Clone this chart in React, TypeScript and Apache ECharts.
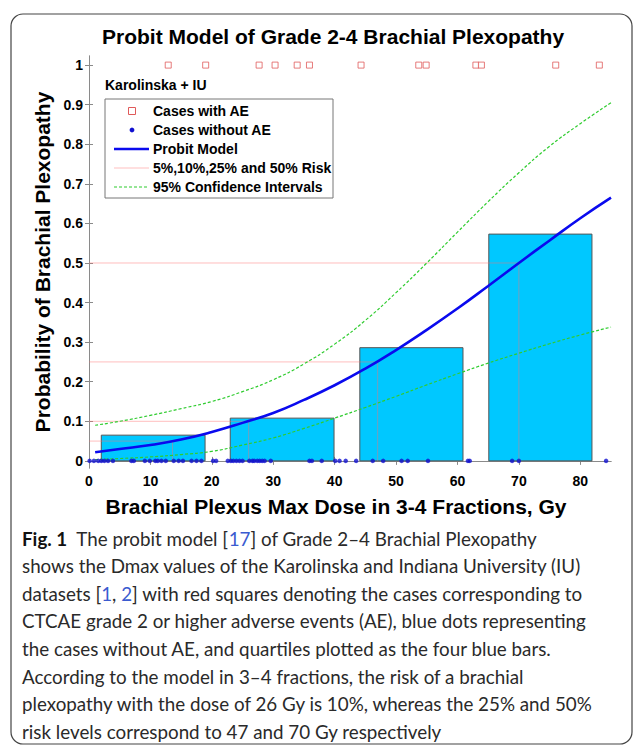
import React, { useEffect, useRef } from 'react';
import * as echarts from 'echarts';

// ---------- data ----------
const xTickValues = [0, 10, 20, 30, 40, 50, 60, 70, 80];
const yTickValues = [0, 0.1, 0.2, 0.3, 0.4, 0.5, 0.6, 0.7, 0.8, 0.9, 1];

// Dmax (Gy) of cases with adverse events (plotted at probability 1)
const casesWithAE = [12.9, 19.0, 27.7, 30.3, 33.9, 35.9, 44.3, 53.7, 54.9, 63.0, 63.9, 76.0, 83.1];
// Dmax (Gy) of cases without adverse events (plotted at probability 0)
const casesWithoutAE = [
  0.1, 0.8, 1.5, 2.0, 2.5, 3.1, 3.9, 6.9, 7.3, 9.1, 9.9, 10.8, 11.2, 11.8, 12.5, 13.8, 14.6, 15.3,
  16.7, 17.5, 18.3, 20.2, 20.7, 22.6, 23.1, 23.5, 24.0, 24.5, 25.0, 26.1, 26.6, 26.9, 27.4, 27.8,
  28.2, 28.6, 29.6, 35.9, 36.3, 37.9, 40.1, 40.8, 41.8, 43.5, 46.2, 47.9, 50.9, 51.9, 55.2, 61.7,
  62.0, 68.9, 70.0, 84.2,
];

// quartile bars: [start dose, end dose, observed rate]
const quartileBars = [
  [2.0, 18.9, 0.065],
  [23.0, 39.9, 0.108],
  [44.1, 60.9, 0.286],
  [65.1, 81.9, 0.573],
];

// probit model curve and 95% confidence intervals
const curveDose = [1, 5, 10, 15, 20, 25, 30, 35, 40, 45, 50, 55, 60, 65, 70, 75, 80, 85];
const probitRisk = [0.022, 0.030, 0.040, 0.054, 0.073, 0.096, 0.121, 0.154, 0.191, 0.233, 0.280, 0.331, 0.385, 0.442, 0.500, 0.557, 0.613, 0.665];
const ciUpper = [0.090, 0.100, 0.115, 0.132, 0.150, 0.175, 0.205, 0.245, 0.295, 0.355, 0.425, 0.500, 0.578, 0.655, 0.728, 0.795, 0.852, 0.905];
const ciLower = [0.003, 0.006, 0.010, 0.016, 0.024, 0.040, 0.058, 0.082, 0.108, 0.135, 0.163, 0.192, 0.220, 0.247, 0.272, 0.296, 0.318, 0.338];

// risk levels and the doses at which the model reaches them
const riskLevels = [0.05, 0.1, 0.25, 0.5];
const riskDoses = [13.6, 26, 47, 70];

// ---------- styles ----------
const AXIS_FONT = "'Liberation Sans', Arial, sans-serif";
const CAPTION_FONT = "Lato, 'Open Sans', sans-serif";
const RED = '#e05a5a';
const DOT_BLUE = '#1010d0';
const LINE_BLUE = '#0a0aee';
const GREEN = '#2fcc2f';
const PINK = 'rgba(255,110,110,0.45)';
const CYAN = '#00c8ff';

const captionLines = [
  '{b|Fig. 1}  The probit model [{c|17}] of Grade 2–4 Brachial Plexopathy',
  'shows the Dmax values of the Karolinska and Indiana University (IU)',
  'datasets [{c|1}, {c|2}] with red squares denoting the cases corresponding to',
  'CTCAE grade 2 or higher adverse events (AE), blue dots representing',
  'the cases without AE, and quartiles plotted as the four blue bars.',
  'According to the model in 3–4 fractions, the risk of a brachial',
  'plexopathy with the dose of 26 Gy is 10%, whereas the 25% and 50%',
  'risk levels correspond to 47 and 70 Gy respectively',
];

const legendItems = [
  { name: 'Cases with AE', kind: 'square' },
  { name: 'Cases without AE', kind: 'dot' },
  { name: 'Probit Model', kind: 'probit' },
  { name: '5%,10%,25% and 50% Risk', kind: 'risk' },
  { name: '95% Confidence Intervals', kind: 'ci' },
];

export default function App() {
  const ref = useRef<HTMLDivElement>(null);

  useEffect(() => {
    document.body.style.margin = '0';
    if (!ref.current) return;
    const chart = echarts.init(ref.current, undefined, { renderer: 'svg' });

    const riskSeries = riskLevels.map((p, i) => ({
      type: 'line',
      name: '5%,10%,25% and 50% Risk',
      data: [
        [0, p],
        [riskDoses[i], p],
        [riskDoses[i], 0],
      ],
      showSymbol: false,
      symbol: 'none',
      lineStyle: { color: PINK, width: 1 },
      z: 3,
      silent: true,
    }));

    const legendGraphics: any[] = [];
    const lx = 105, ly = 99, lw = 228, lh = 99;
    legendGraphics.push({
      type: 'text',
      style: { text: 'Karolinska + IU', x: lx, y: 85, fill: '#000', fontSize: 14, fontWeight: 'bold', fontFamily: AXIS_FONT, verticalAlign: 'middle' },
      z: 100,
    });
    legendGraphics.push({
      type: 'rect',
      shape: { x: lx, y: ly, width: lw, height: lh },
      style: { fill: '#fff', stroke: '#777', lineWidth: 1 },
      z: 100,
    });
    legendItems.forEach((it, i) => {
      const cy = 111 + i * 19;
      if (it.kind === 'square') {
        legendGraphics.push({ type: 'rect', shape: { x: 128.5, y: cy - 3.5, width: 7, height: 7 }, style: { fill: '#fff', stroke: RED, lineWidth: 1 }, z: 101 });
      } else if (it.kind === 'dot') {
        legendGraphics.push({ type: 'circle', shape: { cx: 132, cy, r: 2.4 }, style: { fill: DOT_BLUE }, z: 101 });
      } else if (it.kind === 'probit') {
        legendGraphics.push({ type: 'line', shape: { x1: 114, y1: cy, x2: 149, y2: cy }, style: { stroke: LINE_BLUE, lineWidth: 2.5 }, z: 101 });
      } else if (it.kind === 'risk') {
        legendGraphics.push({ type: 'line', shape: { x1: 114, y1: cy, x2: 149, y2: cy }, style: { stroke: PINK, lineWidth: 1.2 }, z: 101 });
      } else {
        legendGraphics.push({ type: 'line', shape: { x1: 114, y1: cy, x2: 149, y2: cy }, style: { stroke: GREEN, lineWidth: 1.2, lineDash: [3, 2] }, z: 101 });
      }
      legendGraphics.push({
        type: 'text',
        style: { text: it.name, x: 153, y: cy, fill: '#000', fontSize: 14, fontWeight: 'bold', fontFamily: AXIS_FONT, verticalAlign: 'middle' },
        z: 101,
      });
    });

    const captionGraphics = captionLines.map((line, i) => ({
      type: 'text',
      style: {
        text: line,
        x: 22,
        y: 538 + i * 27.6,
        fill: '#2a2a2a',
        fontSize: 18.8,
        fontFamily: CAPTION_FONT,
        verticalAlign: 'middle',
        rich: {
          b: { fontWeight: 'bold', fontSize: 18.8, fontFamily: CAPTION_FONT, fill: '#111' },
          c: { fontSize: 18.8, fontFamily: CAPTION_FONT, fill: '#3a5bd0' },
        },
      },
      z: 100,
    }));

    const axisCommon = {
      type: 'value',
      axisLine: { show: true, lineStyle: { color: '#8a8a8a', width: 1 } },
      axisTick: { show: true, inside: true, length: 4, lineStyle: { color: '#8a8a8a' } },
      splitLine: { show: false },
    };

    const yLabelFmt = (v: number) => (v === 0 ? '0' : v === 1 ? '1' : v.toFixed(1));

    chart.setOption({
      animation: false,
      backgroundColor: '#fff',
      title: {
        text: 'Probit Model of Grade 2-4 Brachial Plexopathy',
        left: 102,
        top: 26,
        padding: 0,
        textStyle: { fontSize: 21, fontWeight: 'bold', color: '#000', fontFamily: AXIS_FONT },
      },
      grid: { left: 89, right: 25, top: 56, bottom: 281, containLabel: false },
      xAxis: [
        {
          ...axisCommon,
          position: 'bottom',
          min: 0,
          max: 85,
          interval: 10,
          name: 'Brachial Plexus Max Dose in 3-4 Fractions, Gy',
          nameLocation: 'middle',
          nameGap: 28,
          nameTextStyle: { fontSize: 21, fontWeight: 'bold', color: '#000', fontFamily: AXIS_FONT, padding: [0, 28, 0, 0] },
          axisTick: { ...axisCommon.axisTick, customValues: xTickValues },
          axisLabel: { customValues: xTickValues, fontSize: 14, fontWeight: 'bold', color: '#000', fontFamily: AXIS_FONT, margin: 6 },
        },
        {
          ...axisCommon,
          position: 'top',
          min: 0,
          max: 85,
          interval: 10,
          axisTick: { ...axisCommon.axisTick, customValues: xTickValues },
          axisLabel: { show: false },
        },
      ],
      yAxis: [
        {
          ...axisCommon,
          position: 'left',
          min: -0.018,
          max: 1.023,
          name: 'Probability of Brachial Plexopathy',
          nameLocation: 'middle',
          nameGap: 36,
          nameTextStyle: { fontSize: 21, fontWeight: 'bold', color: '#000', fontFamily: AXIS_FONT },
          axisTick: { ...axisCommon.axisTick, customValues: yTickValues },
          axisLabel: { customValues: yTickValues, formatter: yLabelFmt, fontSize: 14, fontWeight: 'bold', color: '#000', fontFamily: AXIS_FONT, margin: 6 },
        },
        {
          ...axisCommon,
          position: 'right',
          min: -0.018,
          max: 1.023,
          axisTick: { ...axisCommon.axisTick, customValues: yTickValues },
          axisLabel: { show: false },
        },
      ],
      series: [
        {
          type: 'custom',
          name: 'Quartiles',
          data: quartileBars,
          encode: { x: [0, 1], y: 2 },
          z: 1,
          silent: true,
          renderItem: (_params: any, api: any) => {
            const p0 = api.coord([api.value(0), api.value(2)]);
            const p1 = api.coord([api.value(1), 0]);
            return {
              type: 'rect',
              shape: { x: p0[0], y: p0[1], width: p1[0] - p0[0], height: p1[1] - p0[1] },
              style: { fill: CYAN, stroke: '#555', lineWidth: 1 },
            };
          },
        },
        ...riskSeries,
        {
          type: 'line',
          name: '95% Confidence Intervals',
          data: curveDose.map((d, i) => [d, ciUpper[i]]),
          smooth: true,
          showSymbol: false,
          symbol: 'none',
          lineStyle: { color: GREEN, width: 1.2, type: [3, 2] },
          z: 4,
        },
        {
          type: 'line',
          name: '95% Confidence Intervals',
          data: curveDose.map((d, i) => [d, ciLower[i]]),
          smooth: true,
          showSymbol: false,
          symbol: 'none',
          lineStyle: { color: GREEN, width: 1.2, type: [3, 2] },
          z: 4,
        },
        {
          type: 'line',
          name: 'Probit Model',
          data: curveDose.map((d, i) => [d, probitRisk[i]]),
          smooth: true,
          showSymbol: false,
          symbol: 'none',
          lineStyle: { color: LINE_BLUE, width: 2.6 },
          z: 5,
        },
        {
          type: 'scatter',
          name: 'Cases with AE',
          data: casesWithAE.map((d) => [d, 1]),
          symbol: 'rect',
          symbolSize: 6,
          itemStyle: { color: '#fff', borderColor: RED, borderWidth: 1 },
          z: 6,
        },
        {
          type: 'scatter',
          name: 'Cases without AE',
          data: casesWithoutAE.map((d) => [d, 0]),
          symbol: 'circle',
          symbolSize: 4.5,
          itemStyle: { color: DOT_BLUE },
          z: 6,
        },
      ],
      graphic: [
        {
          type: 'rect',
          shape: { x: 11, y: 14, width: 621, height: 730, r: 12 },
          style: { fill: 'none', stroke: '#444', lineWidth: 1.2 },
          z: 0,
          silent: true,
        },
        ...legendGraphics,
        ...captionGraphics,
      ],
    });

    return () => chart.dispose();
  }, []);

  return <div ref={ref} style={{ width: 636, height: 749 }} />;
}
